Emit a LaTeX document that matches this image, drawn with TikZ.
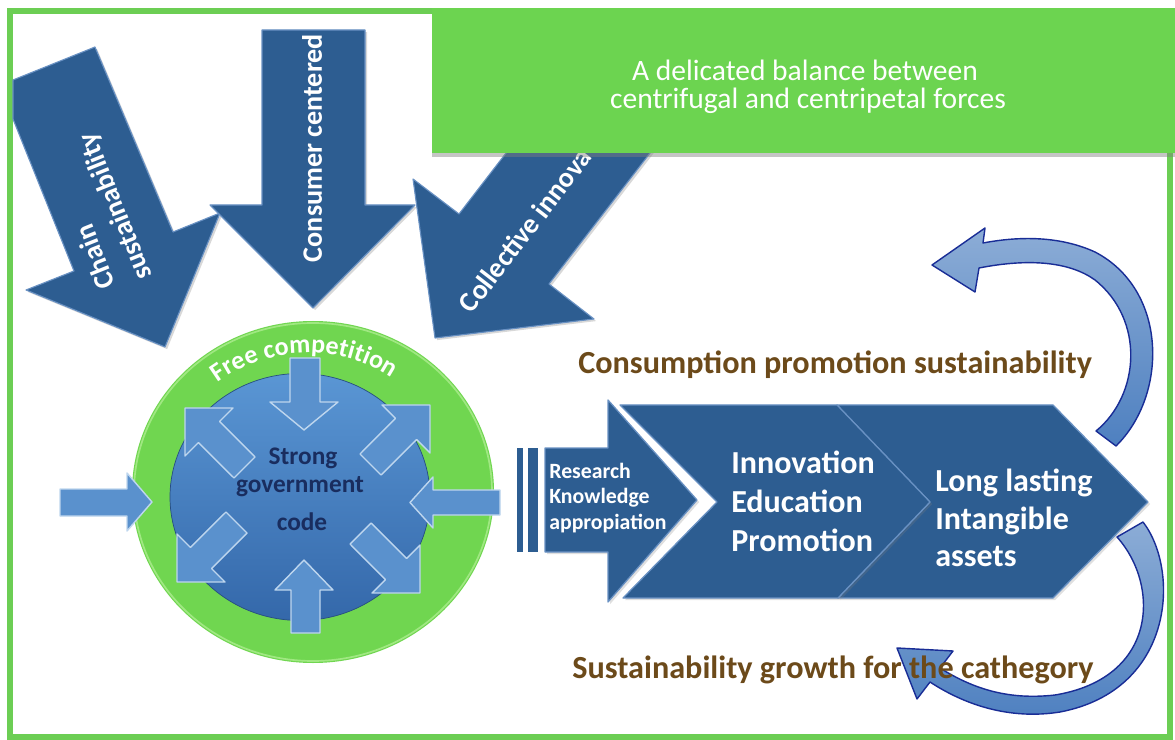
\documentclass[tikz,border=0pt]{standalone}
\usepackage{fontspec}
\setmainfont{Carlito}
\usetikzlibrary{shadows,decorations.text}
\definecolor{framegreen}{RGB}{108,206,84}
\definecolor{boxgreen}{RGB}{108,212,80}
\definecolor{bigblue}{RGB}{45,93,145}
\definecolor{bevel}{RGB}{105,145,195}
\definecolor{ringgreen}{RGB}{112,214,80}
\definecolor{ringlight}{RGB}{160,232,130}
\definecolor{balltop}{RGB}{90,150,212}
\definecolor{ballbot}{RGB}{52,104,170}
\definecolor{smallblue}{RGB}{90,145,205}
\definecolor{smalledge}{RGB}{190,214,238}
\definecolor{navytext}{RGB}{25,45,95}
\definecolor{browntext}{RGB}{108,74,26}
\definecolor{curvefill}{RGB}{78,128,192}
\definecolor{curveedge}{RGB}{25,45,150}
\begin{document}
\begin{tikzpicture}[x=0.025cm,y=-0.025cm,
  bigarrow/.style={fill=bigblue, draw=bevel, line width=0.8pt, line join=round,
    drop shadow={opacity=0.3, shadow xshift=1.5pt, shadow yshift=-1.5pt}},
  smallarrow/.style={fill=smallblue, draw=smalledge, line width=1pt, line join=round},
  chev/.style={fill=bigblue, draw=bevel, line width=0.9pt, line join=round,
    drop shadow={opacity=0.25, shadow xshift=1.5pt, shadow yshift=-1.5pt}},
  curvearrow/.style={top color=curvefill!65!white, bottom color=curvefill, draw=curveedge, line width=1pt, line join=round},
  bigtext/.style={text=white, font=\fontsize{20}{24}\selectfont\bfseries, inner sep=0pt},
  chevtext/.style={text=white, align=left, inner sep=0pt, anchor=west},
  browntxt/.style={text=browntext, font=\fontsize{22.9}{27}\selectfont\bfseries, inner sep=0pt, anchor=west},
  navytxt/.style={text=navytext, font=\fontsize{18}{21}\selectfont\bfseries, inner sep=0pt},
  boxtext/.style={text=white, font=\fontsize{21}{25}\selectfont, inner sep=0pt}
]
\useasboundingbox (0,0) rectangle (1175,740);
\fill[white] (0,0) rectangle (1175,740);

% frame
\draw[framegreen, line width=4.3pt] (10,11) rectangle (1170,737);

% big arrows
\path[bigarrow] (13,80) -- (95,47) -- (173,232) -- (220,213) -- (165,347) -- (26,290) -- (74,271) -- (13,119) -- cycle;
\node[bigtext, rotate=111.8, anchor=west] (chain1) at (107,288) {Chain};
\node[bigtext, rotate=111.8, anchor=west] (chain2) at (145,279) {sustainability};

\path[bigarrow] (262,30) -- (365,30) -- (365,205) -- (415,205) -- (313,308) -- (210,205) -- (262,205) -- cycle;
\node[bigtext, rotate=90] (consumer) at (312,148) {Consumer centered};

\path[bigarrow] (435,338) -- (413,179) -- (459,214) -- (611,17) -- (701,87) -- (549,284) -- (594,319) -- cycle;
\node[bigtext, rotate=52.3, anchor=west] (collective) at (464,309) {Collective innova};

% top green box
\path[fill=boxgreen, drop shadow={opacity=0.45, shadow xshift=0pt, shadow yshift=-3pt}] (432,8) rectangle (1175,153);
\node[boxtext] (box1) at (805,70) {A delicated balance between};
\node[boxtext] (box2) at (808,101) {centrifugal and centripetal forces};

% ring and ball
\fill[ringgreen] (313,492) ellipse [x radius=181, y radius=171];
\draw[ringlight, line width=1.2pt] (313,492) ellipse [x radius=179, y radius=169];
\path[decorate, decoration={text along path, text align={center},
  text={|\fontsize{18.5}{21}\selectfont\bfseries\color{white}|Free competition}}]
  (308,505) ++(233:152) arc[start angle=233, end angle=304, radius=152];
\shade[top color=balltop, bottom color=ballbot] (300,497) ellipse [x radius=130, y radius=123.5];
\draw[ballbot!75!black, line width=0.5pt] (300,497) ellipse [x radius=130, y radius=123.5];

% small arrows
\path[smallarrow] (290,358) -- (320,358) -- (320,402) -- (338,402) -- (304,430) -- (270,402) -- (290,402) -- cycle;
\path[smallarrow] (304,560) -- (333,590) -- (320,590) -- (320,633) -- (291,633) -- (291,590) -- (275,590) -- cycle;
\path[smallarrow] (60,489) -- (127,489) -- (127,473) -- (152,502) -- (127,531) -- (127,516) -- (60,516) -- cycle;
\path[smallarrow] (500,490) -- (433,490) -- (433,477) -- (410,502.5) -- (433,528) -- (433,515) -- (500,515) -- cycle;
\path[smallarrow] (185,408) -- (233,408) -- (219.6,421.4) -- (255,457) -- (234,478) -- (198.4,442.6) -- (185,456) -- cycle;
\path[smallarrow] (430,405) -- (430,453) -- (416.6,439.6) -- (381,475) -- (360,454) -- (395.4,418.4) -- (382,405) -- cycle;
\path[smallarrow] (177,582) -- (225,582) -- (211.6,568.6) -- (247,533) -- (226,512) -- (190.4,547.4) -- (177,534) -- cycle;
\path[smallarrow] (420,593) -- (372,593) -- (385.4,579.6) -- (350,544) -- (371,523) -- (406.6,558.4) -- (420,545) -- cycle;

\node[navytxt] (strong) at (303,458) {Strong};
\node[navytxt] (govt) at (300,487) {government};
\node[navytxt] (code) at (302,522) {code};

% chevrons
\fill[bigblue] (517,448) rectangle (523,552);
\fill[bigblue] (528,448) rectangle (538,552);
\path[chev] (837,405) -- (1053,405) -- (1148,502) -- (1053,598) -- (838,598) -- (930,502) -- cycle;
\path[chev] (620,405) -- (837,405) -- (930,502) -- (838,598) -- (623,598) -- (717,502) -- cycle;
\path[chev] (545,448) -- (608,448) -- (608,400) -- (697,500) -- (608,602) -- (608,552) -- (545,552) -- cycle;

\node[chevtext, font=\fontsize{15.5}{18.1}\selectfont\bfseries] (research) at (549,498)
  {Research\\Knowledge\\appropiation};
\node[chevtext, font=\fontsize{22.8}{27.7}\selectfont\bfseries] (innov) at (731,501)
  {Innovation\\Education\\Promotion};
\node[chevtext, font=\fontsize{22.8}{26.7}\selectfont\bfseries] (lasting) at (935,518)
  {Long lasting\\Intangible\\assets};

% curved arrows
\path[curvearrow] (1116,446) .. controls (1168,395) and (1168,290) .. (1095,252)
  .. controls (1060,236) and (1020,236) .. (983,243)
  -- (985,228) -- (932,265) -- (975,292) -- (979,268)
  .. controls (1030,258) and (1070,262) .. (1095,280)
  .. controls (1145,320) and (1140,395) .. (1096,431) -- cycle;
\path[curvearrow] (1143,522) .. controls (1180,570) and (1175,690) .. (1060,712)
  .. controls (1010,720) and (965,705) .. (930,682)
  -- (917,699) -- (897,648) -- (953,651) -- (940,668)
  .. controls (975,690) and (1010,700) .. (1055,695)
  .. controls (1158,678) and (1160,585) .. (1117,537) -- cycle;

% brown labels
\node[browntxt] (consumption) at (578,365) {Consumption promotion sustainability};
\node[browntxt] (growth) at (572,670) {Sustainability growth for the cathegory};
\end{tikzpicture}
\end{document}
